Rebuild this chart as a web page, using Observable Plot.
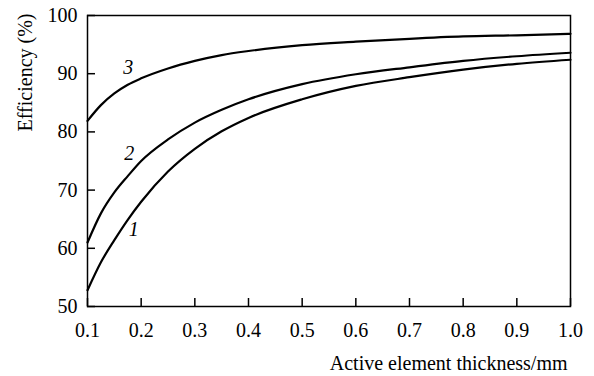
<!DOCTYPE html>
<html>
<head>
<meta charset="utf-8">
<script src="https://cdn.jsdelivr.net/npm/d3@7"></script>
<script src="https://cdn.jsdelivr.net/npm/@observablehq/plot@0.6"></script>
<style>
  html, body { margin: 0; padding: 0; background: #fff; }
  #chart svg { display: block; font-family: 'Liberation Serif', 'DejaVu Serif', serif !important; }
  #chart svg text { font-family: 'Liberation Serif', 'DejaVu Serif', serif !important; }
</style>
</head>
<body>
<div id="chart"></div>
<script>
const thickness = [0.1, 0.125, 0.15, 0.175, 0.2, 0.25, 0.3, 0.35, 0.4, 0.5, 0.6, 0.7, 0.8, 0.9, 1.0];
const curve1 = [52.8, 57.6, 61.4, 64.9, 68.0, 73.2, 77.1, 80.1, 82.4, 85.6, 87.9, 89.4, 90.7, 91.7, 92.4];
const curve2 = [61.0, 66.0, 69.6, 72.4, 75.0, 78.7, 81.6, 83.8, 85.6, 88.2, 89.9, 91.1, 92.2, 93.0, 93.6];
const curve3 = [81.9, 84.6, 86.6, 88.1, 89.2, 90.9, 92.2, 93.2, 93.9, 94.9, 95.5, 96.0, 96.4, 96.6, 96.85];
const xTicks = [0.1, 0.2, 0.3, 0.4, 0.5, 0.6, 0.7, 0.8, 0.9, 1.0];
const yTicks = [50, 60, 70, 80, 90, 100];
const curveNames = ["1", "2", "3"];
const labelX = [0.186, 0.178, 0.176];
const labelY = [63.2, 76.3, 91.1];
const xTitle = "Active element thickness/mm";
const yTitle = "Efficiency (%)";

const series = [curve1, curve2, curve3];
const rows = series.flatMap((vals, i) => vals.map((v, j) => ({x: thickness[j], y: v, s: curveNames[i]})));
const labels = curveNames.map((n, i) => ({x: labelX[i], y: labelY[i], t: n}));

const font = "Liberation Serif";

const chart = Plot.plot({
  width: 594,
  height: 376,
  marginLeft: 87,
  marginRight: 24,
  marginTop: 15,
  marginBottom: 70,
  style: {fontFamily: font, fontSize: "20px", color: "#000", background: "#fff"},
  x: {domain: [0.1, 1.0]},
  y: {domain: [50, 100]},
  marks: [
    Plot.frame({stroke: "#000", strokeWidth: 1.5}),
    Plot.axisX(xTicks, {tickSize: -8, text: null, strokeWidth: 1.5, label: null}),
    Plot.axisX(xTicks, {tickSize: 0, tickPadding: 14, dy: 2, tickFormat: d3.format(".1f"), label: null, fontSize: 20, fontFamily: font}),
    Plot.axisY(yTicks, {tickSize: -8, text: null, strokeWidth: 1.5, label: null}),
    Plot.axisY(yTicks, {tickSize: 0, tickPadding: 10, label: null, fontSize: 20, fontFamily: font}),
    Plot.line(rows, {x: "x", y: "y", z: "s", stroke: "#000", strokeWidth: 2.2, curve: "monotone-x"}),
    Plot.text(labels, {x: "x", y: "y", text: "t", fontStyle: "italic", fontSize: 20, fontFamily: font}),
    Plot.text([xTitle], {frameAnchor: "bottom-right", dx: -3, dy: 63, textAnchor: "end", fontSize: 20, fontFamily: font}),
    Plot.text([yTitle], {frameAnchor: "top-left", rotate: -90, dx: -70, dy: -2, textAnchor: "end", fontSize: 20, fontFamily: font})
  ]
});
document.getElementById("chart").appendChild(chart);
</script>
</body>
</html>
